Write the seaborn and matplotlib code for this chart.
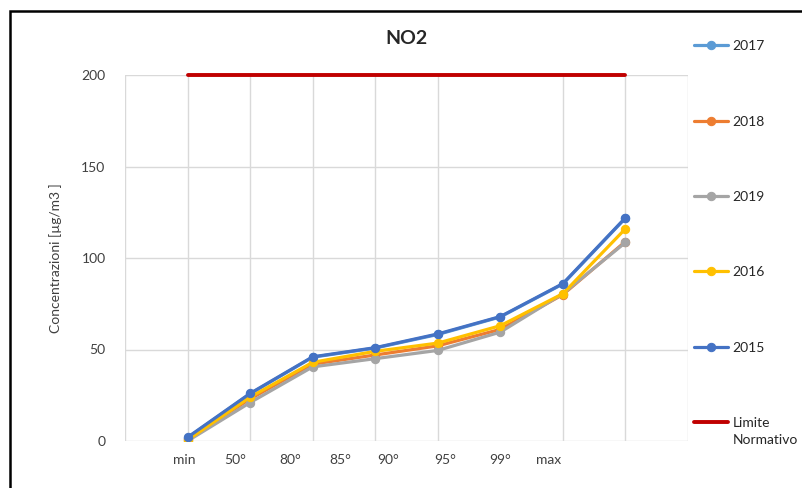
import numpy as np
import pandas as pd
import matplotlib
matplotlib.use("Agg")
import matplotlib.pyplot as plt
from matplotlib.patches import Rectangle
import seaborn as sns

# Percentile categories and yearly NO2 concentrations (µg/m3)
categories = ["min", "50°", "80°", "85°", "90°", "95°", "99°", "max"]
no2_2017 = [1.8, 25.8, 45.8, 50.8, 58.2, 67.8, 85.8, 121.8]
no2_2018 = [1.0, 23.0, 42.0, 47.0, 52.0, 61.0, 80.0, 109.0]
no2_2019 = [0.0, 21.0, 40.5, 45.0, 49.5, 59.5, 80.5, 108.5]
no2_2016 = [0.5, 24.0, 43.0, 49.0, 53.5, 63.0, 80.5, 116.0]
no2_2015 = [2.0, 26.0, 46.0, 51.0, 58.5, 68.0, 86.0, 122.0]
limite = 200

series = [
    ("2017", no2_2017, "#5B9BD5"),
    ("2018", no2_2018, "#ED7D31"),
    ("2019", no2_2019, "#A5A5A5"),
    ("2016", no2_2016, "#FFC000"),
    ("2015", no2_2015, "#4472C4"),
]

sns.set_theme(style="white")
plt.rcParams["font.family"] = ["Lato", "DejaVu Sans"]

fig = plt.figure(figsize=(8.02, 4.88), dpi=100)
ax = fig.add_axes([125 / 802, 47 / 488, 563 / 802, 366 / 488])

xpos = np.arange(1, len(categories) + 1)
for name, vals, col in series:
    df = pd.DataFrame({"x": xpos, "y": vals})
    sns.lineplot(data=df, x="x", y="y", ax=ax, color=col, linewidth=2.3,
                 marker="o", markersize=6, markeredgecolor=col, label=name)

df_lim = pd.DataFrame({"x": xpos, "y": [limite] * len(xpos)})
sns.lineplot(data=df_lim, x="x", y="y", ax=ax, color="#C00000", linewidth=2.8,
             label="Limite", clip_on=False)

ax.set_xlim(0, 9)
ax.set_ylim(0, 200)
ax.set_yticks([0, 50, 100, 150, 200])
ax.set_xticks(np.arange(0, 10), minor=True)
ax.grid(True, which="minor", axis="x", color="#D9D9D9", linewidth=1)
ax.grid(True, which="major", axis="y", color="#D9D9D9", linewidth=1)
ax.set_axisbelow(True)

# category labels sit on their own tick row under the plot
label_pos = [0.94, 1.76, 2.64, 3.44, 4.2, 5.12, 6.0, 6.77]
ax.set_xticks(label_pos)
ax.set_xticklabels(categories)
ax.tick_params(axis="x", which="both", length=0, pad=9, labelsize=10, labelcolor="#404040")
ax.tick_params(axis="y", length=0, pad=14, labelsize=10, labelcolor="#404040")

for s in ax.spines.values():
    s.set_visible(False)

ax.set_xlabel("")
ax.set_ylabel("Concentrazioni [µg/m3 ]", fontsize=10, color="#404040", labelpad=14)
ax.set_title("NO2", fontsize=14, fontweight="bold", pad=22)

leg = ax.legend(loc="upper left", bbox_to_anchor=(1.0, 1.11), frameon=False,
                fontsize=10, labelspacing=4.56, handlelength=2.5, handletextpad=0.3,
                borderaxespad=0)
for t in leg.get_texts():
    t.set_color("#262626")

# second line of the last legend label, placed right under "Limite"
fig.canvas.draw()
last = leg.get_texts()[-1]
bb = last.get_window_extent()
fig.text(bb.x0 / fig.bbox.width, (bb.y0 - 5) / fig.bbox.height, "Normativo",
         fontsize=10, color="#262626", ha="left", va="top")

fig.add_artist(Rectangle((10 / 802, -0.05), 1.2, (488 - 11) / 488 + 0.05,
                         transform=fig.transFigure, fill=False,
                         edgecolor="black", linewidth=1.8))

fig.savefig("out.png", dpi=100, facecolor="white")
